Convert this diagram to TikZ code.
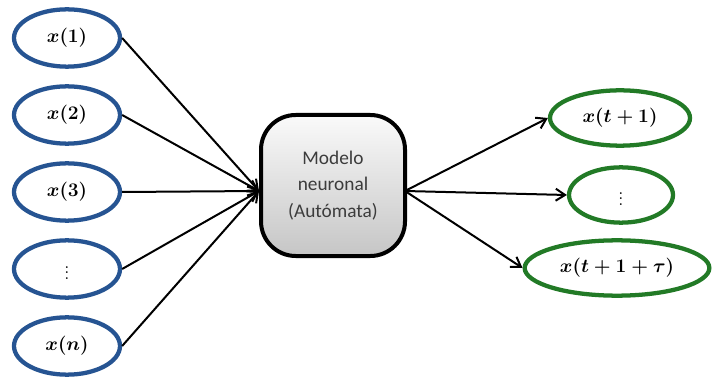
\documentclass[tikz,border=0pt]{standalone}
\usepackage{fontspec}
\usepackage{amsmath}
\newfontfamily\carlito{Carlito}
\usetikzlibrary{shapes.geometric,arrows.meta}
\definecolor{inblue}{RGB}{38,84,146}
\definecolor{outgreen}{RGB}{34,122,38}
\definecolor{boxtext}{RGB}{60,60,60}
\tikzset{
  ellbase/.style={ellipse, inner sep=0pt, line width=3.2pt, fill=white,
    font=\fontsize{14}{16}\selectfont\boldmath},
  inell/.style={ellbase, draw=inblue, minimum width=79.5pt, minimum height=43pt},
  outell/.style={ellbase, draw=outgreen, minimum height=41.5pt},
  model/.style={draw=black, line width=3pt, rounded corners=26pt,
    minimum width=108pt, minimum height=105.75pt,
    top color=white!96!gray, bottom color=gray!45,
    align=center, text=boxtext, font=\carlito\fontsize{14.5}{20}\selectfont},
  link/.style={line width=1.5pt, draw=black,
    -{Straight Barb[length=7pt,width=9pt,line width=1.5pt]}}
}
\begin{document}
\begin{tikzpicture}[x=0.75pt,y=-0.75pt]
\useasboundingbox (0,0) rectangle (712,377);

% inputs
\node[inell] (x1) at (67,38)  {$x(1)$};
\node[inell] (x2) at (67,115) {$x(2)$};
\node[inell] (x3) at (67,192) {$x(3)$};
\node[inell] (x4) at (67,269) {$\vdots$};
\node[inell] (xn) at (67,346) {$x(n)$};

% central model
\node[model] (m) at (333,185.5) {Modelo\\neuronal\\(Autómata)};
\coordinate (jin)  at (259,191);
\coordinate (jout) at (405,191);

% outputs
\node[outell, minimum width=105pt]   (y1) at (620,118) {$x(t+1)$};
\node[outell, minimum width=78pt]    (y2) at (621,195) {$\vdots$};
\node[outell, minimum width=138.5pt] (y3) at (617,268) {$x(t+1+\tau)$};

% connectors into the model
\foreach \s in {x1,x2,x3,x4,xn}
  \draw[link] (\s.east) -- (jin);

% connectors out of the model
\draw[link] (jout) -- (y1.west);
\draw[link] (jout) -- (y2.west);
\draw[link] (jout) -- (y3.west);
\end{tikzpicture}
\end{document}
